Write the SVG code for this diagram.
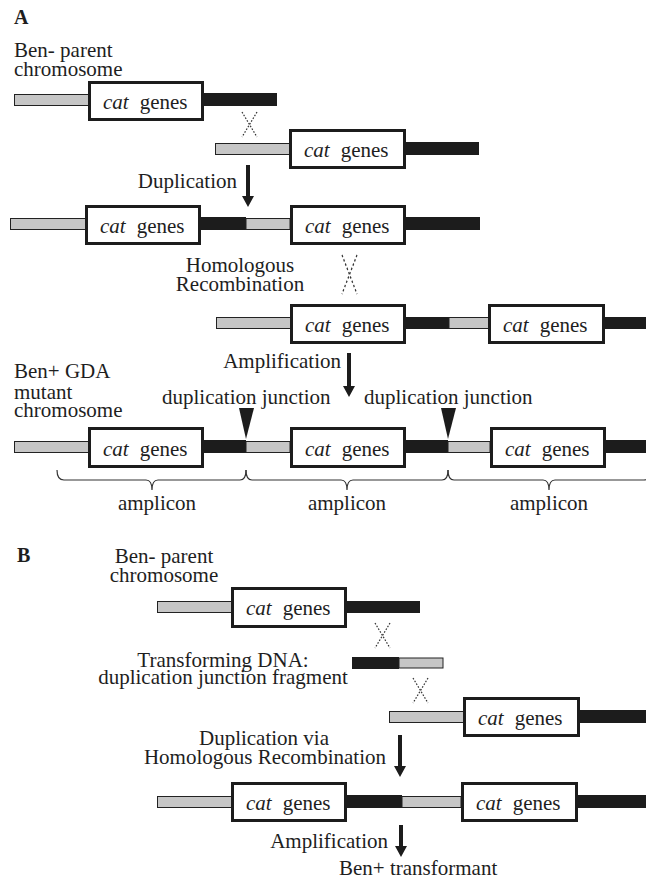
<svg xmlns="http://www.w3.org/2000/svg" width="646" height="880" viewBox="0 0 646 880">
<style>
text{font-family:"Liberation Serif","Times New Roman",serif;font-size:21px;fill:#1e1e1e}
.lbl{font-weight:bold;font-size:20px}
.g{fill:#c6c6c6;stroke:#222;stroke-width:1}
.k{fill:#1c1c1c}
.box{fill:#fff;stroke:#1c1c1c;stroke-width:3}
.it{font-style:italic}
.x{stroke:#333;stroke-width:1.2;stroke-dasharray:1.6,1.6;fill:none}
.br{stroke:#333;stroke-width:1.2;fill:none}
.ar{fill:#1c1c1c}
</style>
<defs>
<g id="xcross"><line x1="0" y1="0" x2="15" y2="25" class="x"/><line x1="15" y1="0" x2="0" y2="25" class="x"/></g>
</defs>

<text class="lbl" x="14" y="24">A</text>
<text x="14" y="57">Ben- parent</text>
<text x="14" y="76">chromosome</text>

<g id="row1">
<rect class="g" x="14.5" y="94.5" width="74" height="11"/>
<rect class="k" x="204" y="93" width="73" height="13"/>
<rect class="box" x="89.5" y="82.5" width="113" height="37"/>
<text x="103" y="109"><tspan class="it">cat</tspan><tspan dx="11">genes</tspan></text>
</g>

<g id="row2">
<rect class="g" x="215.5" y="143.5" width="74" height="11"/>
<rect class="k" x="406" y="142" width="73" height="13"/>
<rect class="box" x="290.5" y="130.5" width="114" height="37"/>
<text x="304" y="157"><tspan class="it">cat</tspan><tspan dx="11">genes</tspan></text>
</g>

<text x="237" y="188" text-anchor="end">Duplication</text>

<g id="row3">
<rect class="g" x="10.5" y="218.5" width="75" height="11"/>
<rect class="k" x="201" y="217" width="45" height="13"/>
<rect class="g" x="246" y="218.5" width="44" height="11"/>
<rect class="k" x="406" y="217" width="74" height="13"/>
<rect class="box" x="86.5" y="206.5" width="113" height="37"/>
<rect class="box" x="291.5" y="206.5" width="113" height="37"/>
<text x="100" y="233"><tspan class="it">cat</tspan><tspan dx="11">genes</tspan></text>
<text x="305" y="233"><tspan class="it">cat</tspan><tspan dx="11">genes</tspan></text>
</g>

<text x="240" y="272" text-anchor="middle">Homologous</text>
<text x="240" y="291" text-anchor="middle">Recombination</text>

<g id="row4">
<rect class="g" x="216.5" y="317.5" width="74" height="11"/>
<rect class="k" x="406" y="317" width="43" height="12"/>
<rect class="g" x="449" y="317.5" width="40" height="11"/>
<rect class="k" x="605" y="317" width="41" height="12"/>
<rect class="box" x="291.5" y="305.5" width="113" height="37"/>
<rect class="box" x="489.5" y="305.5" width="114" height="37"/>
<text x="305" y="332"><tspan class="it">cat</tspan><tspan dx="11">genes</tspan></text>
<text x="503" y="332"><tspan class="it">cat</tspan><tspan dx="11">genes</tspan></text>
</g>

<text x="341" y="368" text-anchor="end">Amplification</text>
<text x="14" y="378">Ben+ GDA</text>
<text x="14" y="399">mutant</text>
<text x="14" y="417">chromosome</text>
<text x="162" y="404">duplication junction</text>
<text x="364" y="404">duplication junction</text>

<g id="row5">
<rect class="g" x="14.5" y="441.5" width="74" height="11"/>
<rect class="k" x="204" y="440" width="42" height="13"/>
<rect class="g" x="246" y="441.5" width="44" height="11"/>
<rect class="k" x="406" y="440" width="42" height="13"/>
<rect class="g" x="448" y="441.5" width="42" height="11"/>
<rect class="k" x="606" y="440" width="40" height="13"/>
<rect class="box" x="89.5" y="428.5" width="113" height="38"/>
<rect class="box" x="291.5" y="428.5" width="113" height="38"/>
<rect class="box" x="491.5" y="428.5" width="113" height="38"/>
<text x="103" y="456"><tspan class="it">cat</tspan><tspan dx="11">genes</tspan></text>
<text x="305" y="456"><tspan class="it">cat</tspan><tspan dx="11">genes</tspan></text>
<text x="505" y="456"><tspan class="it">cat</tspan><tspan dx="11">genes</tspan></text>
</g>

<text x="157" y="510" text-anchor="middle">amplicon</text>
<text x="347" y="510" text-anchor="middle">amplicon</text>
<text x="549" y="510" text-anchor="middle">amplicon</text>

<text class="lbl" x="17" y="562">B</text>
<text x="164" y="563" text-anchor="middle">Ben- parent</text>
<text x="164" y="582" text-anchor="middle">chromosome</text>

<g id="rowB1">
<rect class="g" x="157.5" y="601.5" width="74" height="11"/>
<rect class="k" x="347" y="601" width="73" height="12"/>
<rect class="box" x="232.5" y="588.5" width="113" height="38"/>
<text x="246" y="615"><tspan class="it">cat</tspan><tspan dx="11">genes</tspan></text>
</g>

<text x="223" y="667" text-anchor="middle">Transforming DNA:</text>
<text x="223" y="684" text-anchor="middle">duplication junction fragment</text>

<g id="fragment">
<rect class="k" x="352" y="657" width="47" height="12"/>
<rect class="g" x="399" y="658" width="44" height="10"/>
</g>

<g id="rowB2">
<rect class="g" x="389.5" y="711.5" width="74" height="11"/>
<rect class="k" x="580" y="710" width="66" height="13"/>
<rect class="box" x="464.5" y="698.5" width="114" height="37"/>
<text x="478" y="725"><tspan class="it">cat</tspan><tspan dx="11">genes</tspan></text>
</g>

<text x="264" y="745" text-anchor="middle">Duplication via</text>
<text x="265" y="764" text-anchor="middle">Homologous Recombination</text>

<g id="rowB3">
<rect class="g" x="157.5" y="796.5" width="74" height="11"/>
<rect class="k" x="347" y="795" width="55" height="13"/>
<rect class="g" x="402" y="796.5" width="59" height="11"/>
<rect class="k" x="578" y="795" width="68" height="13"/>
<rect class="box" x="232.5" y="783.5" width="113" height="37"/>
<rect class="box" x="462.5" y="783.5" width="114" height="37"/>
<text x="246" y="810"><tspan class="it">cat</tspan><tspan dx="11">genes</tspan></text>
<text x="476" y="810"><tspan class="it">cat</tspan><tspan dx="11">genes</tspan></text>
</g>

<text x="388" y="848" text-anchor="end">Amplification</text>
<text x="339" y="875">Ben+ transformant</text>

<g id="connectors">
<use href="#xcross" x="242" y="112"/>
<g transform="translate(342,255) scale(1,1.56)"><line x1="0" y1="0" x2="15" y2="25" class="x"/><line x1="15" y1="0" x2="0" y2="25" class="x"/></g>
<use href="#xcross" x="375" y="623"/>
<use href="#xcross" x="413" y="678"/>
<path class="ar" d="M246,165 h4 v31 h4 l-6,11 l-6,-11 h4 z"/>
<path class="ar" d="M347,353 h4 v33 h4 l-6,11 l-6,-11 h4 z"/>
<path class="ar" d="M398,735 h4 v31 h4 l-6,11 l-6,-11 h4 z"/>
<path class="ar" d="M399,825 h4 v21 h4 l-6,11 l-6,-11 h4 z"/>
<polygon points="239,408 254,408 246,439" class="ar"/>
<polygon points="441,408 456,408 448,439" class="ar"/>
<path class="br" d="M57,470 Q57,480 64,480 L146,480 Q152,480 152,490 Q152,480 158,480 L240,480 Q246,480 246,470"/>
<path class="br" d="M246,470 Q246,480 252,480 L341,480 Q347,480 347,490 Q347,480 353,480 L442,480 Q448,480 448,470"/>
<path class="br" d="M448,470 Q448,480 454,480 L543,480 Q549,480 549,490 Q549,480 555,480 L644,480 Q650,480 650,470"/>
</g>
</svg>
